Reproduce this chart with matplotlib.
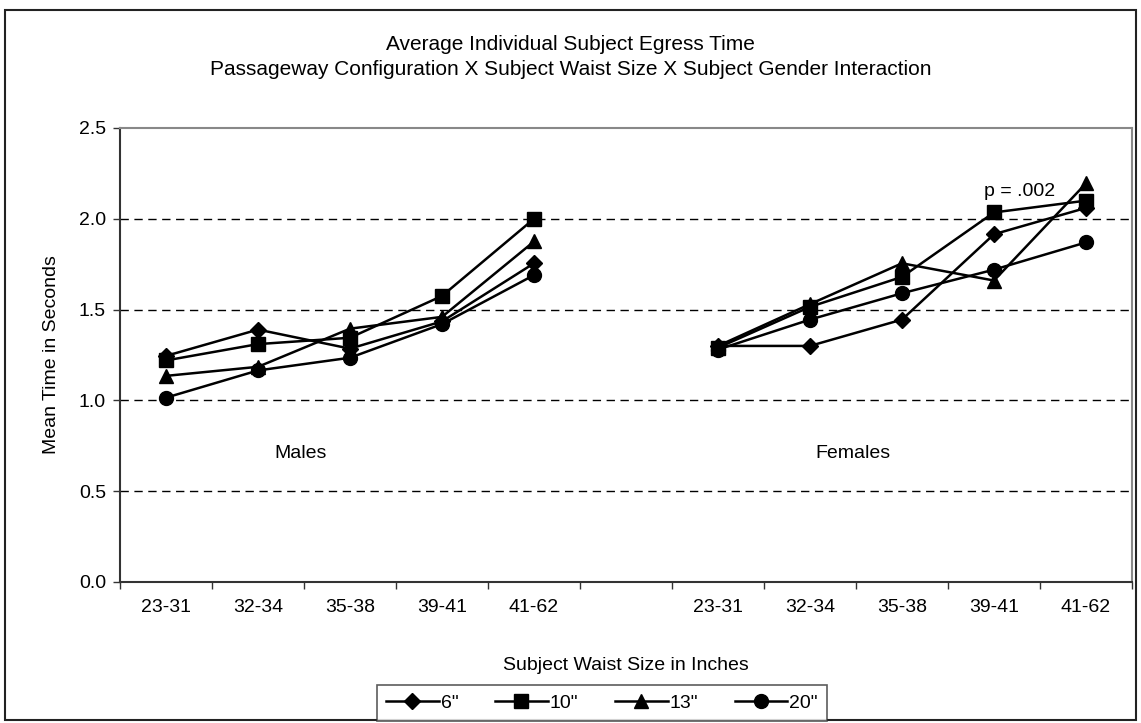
import matplotlib
matplotlib.use("Agg")
import matplotlib.pyplot as plt
from matplotlib.patches import Rectangle

# =======================
# DATA
# =======================
waist_bins = ["23-31", "32-34", "35-38", "39-41", "41-62"]
series_names = ['6"', '10"', '13"', '20"']
series_markers = ["D", "s", "^", "o"]

males_6 = [1.245, 1.39, 1.285, 1.435, 1.755]
males_10 = [1.22, 1.31, 1.345, 1.575, 2.00]
males_13 = [1.135, 1.185, 1.395, 1.46, 1.875]
males_20 = [1.015, 1.165, 1.235, 1.42, 1.69]

females_6 = [1.30, 1.30, 1.445, 1.915, 2.06]
females_10 = [1.29, 1.515, 1.68, 2.035, 2.10]
females_13 = [1.30, 1.53, 1.755, 1.66, 2.195]
females_20 = [1.28, 1.445, 1.59, 1.72, 1.87]

males = [males_6, males_10, males_13, males_20]
females = [females_6, females_10, females_13, females_20]

TITLE = ("Average Individual Subject Egress Time\n"
         "Passageway Configuration X Subject Waist Size X Subject Gender Interaction")
OUTPUT_PATH = "out.png"
FS = 14


def main():
    plt.rcParams["font.family"] = ["Liberation Sans", "DejaVu Sans"]
    fig = plt.figure(figsize=(11.41, 7.23), dpi=100)

    # outer chart border
    fig.patches.append(Rectangle((5 / 1141, 3 / 723), 1131 / 1141, 710 / 723,
                                 transform=fig.transFigure, fill=False,
                                 edgecolor="#222222", linewidth=1.5))

    ax = fig.add_axes([120 / 1141, (723 - 582) / 723, 1012 / 1141, 454 / 723])

    n = len(waist_bins)
    x_m = list(range(n))
    x_f = [i + n + 1 for i in range(n)]

    for vals_m, vals_f, name, mk in zip(males, females, series_names, series_markers):
        ms = 8.5 if mk == "D" else 10
        ax.plot(x_m, vals_m, color="black", lw=1.8, marker=mk, ms=ms, label=name)
        ax.plot(x_f, vals_f, color="black", lw=1.8, marker=mk, ms=ms)

    ax.set_xlim(-0.5, 2 * n + 0.5)
    ax.set_ylim(0, 2.5)

    # y axis
    ax.set_yticks([0, 0.5, 1.0, 1.5, 2.0, 2.5])
    ax.set_yticklabels(["0.0", "0.5", "1.0", "1.5", "2.0", "2.5"])
    for y in [0.5, 1.0, 1.5, 2.0]:
        ax.axhline(y, color="black", lw=1, dashes=(6, 4), zorder=0)

    # x axis: ticks at category boundaries, labels at centres
    ax.set_xticks([i - 0.5 for i in range(2 * n + 2)])
    ax.set_xticklabels([])
    ax.set_xticks(x_m + x_f, minor=True)
    ax.set_xticklabels(waist_bins + waist_bins, minor=True)
    ax.tick_params(axis="x", which="minor", length=0, pad=12, labelsize=FS)
    ax.tick_params(axis="x", which="major", length=5, width=1, color="#333333")
    ax.tick_params(axis="y", length=5, width=1, color="#333333", labelsize=FS, pad=5)

    for side in ["top", "right"]:
        ax.spines[side].set_color("#888888")
        ax.spines[side].set_linewidth(1.5)
    for side in ["left", "bottom"]:
        ax.spines[side].set_color("#333333")
        ax.spines[side].set_linewidth(1.5)

    ax.set_ylabel("Mean Time in Seconds", fontsize=FS, labelpad=14)
    ax.set_xlabel("Subject Waist Size in Inches", fontsize=FS, labelpad=30)

    ax.text(1.46, 0.71, "Males", fontsize=FS, ha="center", va="center")
    ax.text(7.47, 0.71, "Females", fontsize=FS, ha="center", va="center")
    ax.text(9.28, 2.15, "p = .002", fontsize=FS, ha="center", va="center")

    fig.text(0.5, 1 - 57 / 723, TITLE, ha="center", va="center", fontsize=15,
             linespacing=1.35)

    leg = fig.legend(loc="center", bbox_to_anchor=(602 / 1141, 1 - 703 / 723),
                     ncol=4, frameon=True, fancybox=False, fontsize=FS,
                     handlelength=2.7, handletextpad=0.1, columnspacing=1.9,
                     borderpad=0.45)
    leg.get_frame().set_edgecolor("#333333")
    leg.get_frame().set_linewidth(1.2)

    fig.savefig(OUTPUT_PATH, dpi=100)
    plt.close(fig)


if __name__ == "__main__":
    main()
